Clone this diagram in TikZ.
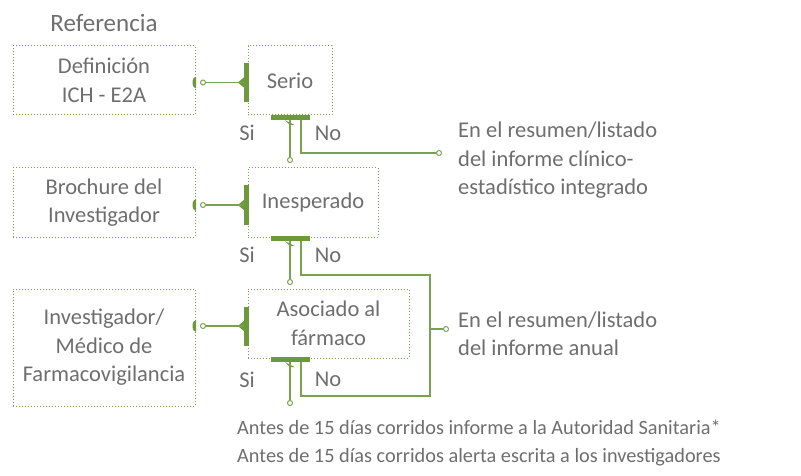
\documentclass[tikz,border=0pt]{standalone}
\usepackage{fontspec}
\setmainfont{Carlito}
\usetikzlibrary{calc}
\definecolor{refgreen}{HTML}{7AA24E}
\definecolor{bargreen}{HTML}{6B993C}
\definecolor{txtgray}{HTML}{6E6E6E}

\begin{document}
\begin{tikzpicture}[x=1pt,y=-1pt,
  txt/.style={text=txtgray,font=\fontsize{22.5}{28.5}\selectfont,inner sep=0pt},
  dotbox/.style={draw=refgreen,dotted,line width=1pt,txt,align=center},
  link/.style={draw=refgreen,line width=1.2pt},
  dot/.style={circle,draw=refgreen,fill=white,line width=1pt,inner sep=0pt,minimum size=5pt},
  vbar/.style={fill=bargreen,inner sep=0pt,minimum width=5pt,minimum height=39pt},
  hbar/.style={fill=bargreen,inner sep=0pt,minimum width=39pt,minimum height=5pt}]
\useasboundingbox (0,0) rectangle (801,476);

\node[txt,font=\fontsize{25}{30}\selectfont] (ref) at (104,23) {Referencia};

\node[dotbox,minimum width=182pt,minimum height=69pt] (defn) at (104,80.5) {Definición\\ICH - E2A};
\node[dotbox,minimum width=182pt,minimum height=69pt] (broch) at (104,202.5) {Brochure del\\Investigador};
\node[dotbox,minimum width=182pt,minimum height=117pt] (medico) at (104,347.5) {Investigador/\\Médico de\\Farmacovigilancia};

\node[dotbox,minimum width=84pt,minimum height=69pt] (serio) at (290,80.5) {Serio};
\node[dotbox,minimum width=130pt,minimum height=69pt] (inesp) at (313,202.5) {Inesperado};
\node[dotbox,minimum width=161pt,minimum height=69pt] (asoc) at (328.5,323.5) {Asociado al\\fármaco};

% row 1
\fill[bargreen] (196,88.5) arc[start angle=90,end angle=270,x radius=3.5,y radius=6];
\node[dot] (d1) at (203,82.5) {};
\node[vbar] (vb1) at (246.5,82.5) {};
\fill[bargreen] ($(vb1.west)+(0,-5)$) -- ++(-6,5) -- ++(6,5) -- cycle;
\draw[link] (d1) -- (vb1.west);
\node[hbar] (hb1) at (290,117.5) {};
\fill[bargreen] ($(hb1.south)+(-5,0)$) -- ++(5,5) -- ++(5,0) -- cycle;
\node[dot] (s1) at (290,160) {};
\draw[link] (hb1.south) -- (s1);
\node[dot] (r1) at (439,153) {};
\coordinate (n1) at (301,120);
\draw[link] (n1) |- (r1);
\node[txt] (si1) at (247,133) {Si};
\node[txt] (no1) at (328,133) {No};

% row 2
\fill[bargreen] (196,211) arc[start angle=90,end angle=270,x radius=3.5,y radius=6];
\node[dot] (d2) at (203,205) {};
\node[vbar] (vb2) at (246.5,205) {};
\fill[bargreen] ($(vb2.west)+(0,-5)$) -- ++(-6,5) -- ++(6,5) -- cycle;
\draw[link] (d2) -- (vb2.west);
\node[hbar] (hb2) at (290,238.5) {};
\fill[bargreen] ($(hb2.south)+(-5,0)$) -- ++(5,5) -- ++(5,0) -- cycle;
\node[dot] (s2) at (290,282) {};
\draw[link] (hb2.south) -- (s2);
\node[txt] (si2) at (247,255) {Si};
\node[txt] (no2) at (328,255) {No};

% row 3
\fill[bargreen] (196,332) arc[start angle=90,end angle=270,x radius=3.5,y radius=6];
\node[dot] (d3) at (203,326) {};
\node[vbar] (vb3) at (246.5,326) {};
\fill[bargreen] ($(vb3.west)+(0,-5)$) -- ++(-6,5) -- ++(6,5) -- cycle;
\draw[link] (d3) -- (vb3.west);
\node[hbar] (hb3) at (290,359.5) {};
\fill[bargreen] ($(hb3.south)+(-5,0)$) -- ++(5,5) -- ++(5,0) -- cycle;
\node[dot] (s3) at (290,403) {};
\draw[link] (hb3.south) -- (s3);
\node[txt] (si3) at (247,380) {Si};
\node[txt] (no3) at (328,379) {No};

% no branches of rows 2 and 3
\coordinate (n2) at (301,241);
\coordinate (n3) at (301,362);
\coordinate (k2) at (430,275);
\coordinate (k3) at (430,396);
\draw[link] (n2) |- (k2) -- (k3) -| (n3);
\node[dot] (r2) at (446,329) {};
\draw[link] (r2) -- (r2 -| k2);

\node[txt,align=left,anchor=west] (res1) at (458,160.5) {En el resumen/listado\\del informe clínico-\\estadístico integrado};
\node[txt,align=left,anchor=west] (res2) at (458,334) {En el resumen/listado\\del informe anual};
\node[txt,align=left,anchor=west,font=\fontsize{20.3}{28}\selectfont] (plazo) at (237,443) {Antes de 15 días corridos informe a la Autoridad Sanitaria*\\Antes de 15 días corridos alerta escrita a los investigadores};
\end{tikzpicture}
\end{document}
